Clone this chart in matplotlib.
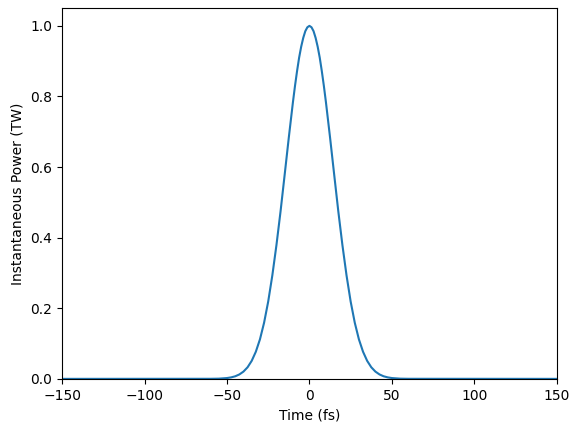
import matplotlib
matplotlib.use('Agg')
import matplotlib.pyplot as plt

# values (time in fs, power in TW)
time_fs = [-150, -60, -55, -50, -47.5, -45, -42.5, -40, -37.5, -35, -32.5, -30,
           -27.5, -25, -22.5, -20, -17.5, -15, -12.5, -10, -8.75, -7.5, -6.25, -5,
           -3.75, -2.5, -1.25, 0, 1.25, 2.5, 3.75,
           5, 6.25, 7.5, 8.75, 10, 12.5, 15, 17.5, 20, 22.5, 25, 27.5, 30,
           32.5, 35, 37.5, 40, 42.5, 45, 47.5, 50, 55, 60, 150]
power_tw = [0.0, 0.0002, 0.0006, 0.0023, 0.0042, 0.0073, 0.0125, 0.0206, 0.0329, 0.0511, 0.0769, 0.112,
            0.159, 0.219, 0.293, 0.379, 0.475, 0.579, 0.684, 0.784, 0.830, 0.872, 0.910, 0.941,
            0.966, 0.985, 0.996, 1.0, 0.996, 0.985, 0.966,
            0.941, 0.910, 0.872, 0.830, 0.784, 0.684, 0.579, 0.475, 0.379, 0.293, 0.219, 0.159, 0.112,
            0.0769, 0.0511, 0.0329, 0.0206, 0.0125, 0.0073, 0.0042, 0.0023, 0.0006, 0.0002, 0.0]

fig, ax = plt.subplots(figsize=(5.8, 4.32), dpi=100)
fig.subplots_adjust(left=0.107, right=0.960, bottom=0.123, top=0.981)

ax.plot(time_fs, power_tw)
ax.set_xlim(-150, 150)
ax.set_ylim(0, 1.05)
ax.set_xlabel('Time (fs)')
ax.set_ylabel('Instantaneous Power (TW)')

fig.savefig('out.png')
plt.close(fig)
